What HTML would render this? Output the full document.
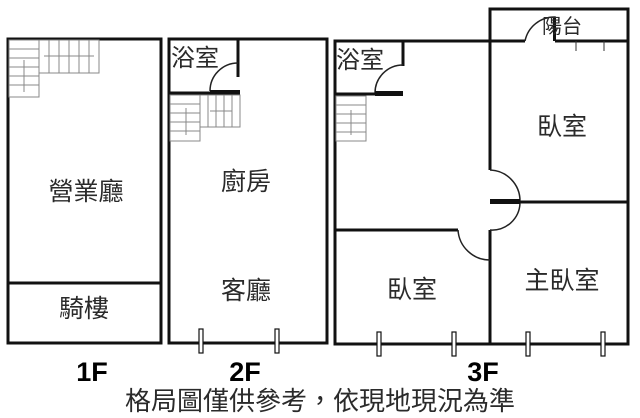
<!DOCTYPE html>
<html><head><meta charset="utf-8"><style>
html,body{margin:0;padding:0;background:#fff;width:640px;height:418px;overflow:hidden}
svg{display:block}
text{font-family:"Liberation Sans","Noto Sans CJK TC",sans-serif;fill:#2a2a2a}
</style></head><body>
<svg width="640" height="418" viewBox="0 0 640 418">
<g fill="none" stroke="#111" stroke-width="3">
<rect x="8" y="39" width="153" height="304"/>
<line x1="8" y1="283" x2="161" y2="283"/>
<rect x="169" y="39" width="158" height="304"/>
<line x1="238" y1="39" x2="238" y2="77"/>
<line x1="169" y1="93" x2="240" y2="93"/>
<polyline points="525,41 335,41 335,344 628,344 628,9 490,9 490,170"/>
<polyline points="555,41 628,41"/>
<line x1="490" y1="230" x2="490" y2="344"/>
<line x1="520" y1="202" x2="628" y2="202"/>
<line x1="335" y1="230" x2="458" y2="230"/>
<line x1="403" y1="41" x2="403" y2="66"/>
<line x1="335" y1="94" x2="403" y2="94"/>
</g>
<g fill="none" stroke="#222" stroke-width="1.5">
<path d="M238,63 A28,28 0 0 0 210,91"/>
<path d="M403,65 A28,28 0 0 0 375,93"/>
<path d="M525,41 A30,30 0 0 1 555,17 L555,41"/>
<path d="M490,170 A31,31 0 0 1 520,201"/>
<path d="M520,203 A28,28 0 0 1 490,230"/>
<path d="M458,230 A32,32 0 0 0 490,260"/>
</g>
<g fill="#111">
<rect x="210" y="90" width="30" height="5"/>
<rect x="375" y="91" width="28" height="5"/>
<rect x="490" y="199" width="30" height="5"/>
<rect x="553" y="17" width="3" height="24"/>
</g>
<g fill="none" stroke="#888" stroke-width="1">
<rect x="9" y="40" width="30" height="57"/>
<path d="M9,49H39M9,58H39M9,67H39M9,76H39M9,85H39"/>
<rect x="39" y="40" width="60" height="33"/>
<path d="M49,40V73M59,40V73M69,40V73M79,40V73M89,40V73"/>
<path d="M24,60V92M44,56H94"/>
<rect x="170" y="95" width="30" height="46"/>
<path d="M170,104H200M170,113H200M170,122H200M170,131H200"/>
<rect x="200" y="95" width="40" height="32"/>
<path d="M208,95V127M216,95V127M224,95V127M232,95V127"/>
<path d="M186,108V135M210,111H232"/>
<rect x="336" y="96" width="30" height="45"/>
<path d="M336,105H366M336,114H366M336,123H366M336,132H366"/>
<path d="M351,110V135"/>
</g>
<g fill="#fff" stroke="#111" stroke-width="1.2">
<rect x="199" y="329" width="4" height="24"/>
<rect x="275" y="329" width="4" height="24"/>
<rect x="377" y="332" width="4" height="24"/>
<rect x="452" y="332" width="4" height="24"/>
<rect x="526" y="332" width="4" height="24"/>
<rect x="601" y="332" width="4" height="24"/>
</g>
<g stroke="#333" stroke-width="1"><line x1="576" y1="41" x2="576" y2="51"/><line x1="604" y1="41" x2="604" y2="51"/></g>
<g font-size="25">
<text x="86" y="200" text-anchor="middle">營業廳</text>
<text x="84" y="317" text-anchor="middle">騎樓</text>
<text x="246" y="190" text-anchor="middle">廚房</text>
<text x="246" y="299" text-anchor="middle">客廳</text>
<text x="412" y="298" text-anchor="middle">臥室</text>
<text x="562" y="135" text-anchor="middle">臥室</text>
<text x="562" y="289" text-anchor="middle">主臥室</text>
</g>
<g font-size="24">
<text x="171" y="66">浴室</text>
<text x="336" y="68">浴室</text>
<text x="542" y="33" font-size="20">陽台</text>
</g>
<g font-size="27" font-weight="bold" fill="#000">
<text x="92" y="381" text-anchor="middle" style="fill:#000">1F</text>
<text x="245" y="381" text-anchor="middle" style="fill:#000">2F</text>
<text x="483" y="381" text-anchor="middle" style="fill:#000">3F</text>
</g>
<text x="320" y="410" font-size="26" text-anchor="middle">格局圖僅供參考，依現地現況為準</text>
</svg>
</body></html>
